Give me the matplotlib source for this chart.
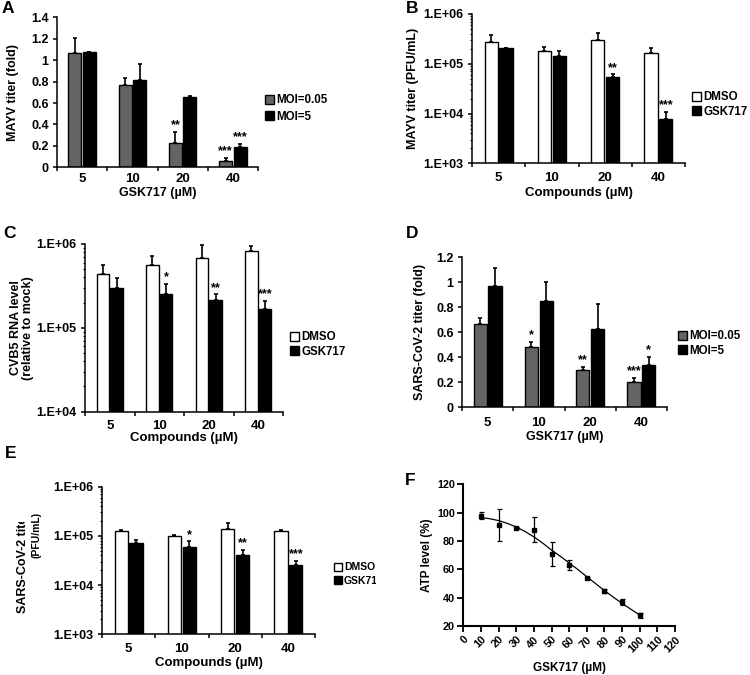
import numpy as np
import matplotlib
matplotlib.use("Agg")
import matplotlib.pyplot as plt
from matplotlib.patches import Patch
from matplotlib.ticker import FuncFormatter, FixedLocator, LogLocator, NullFormatter
from matplotlib.transforms import Bbox, TransformedBbox

plt.rcParams['font.family'] = ['Liberation Sans', 'DejaVu Sans']
plt.rcParams['font.weight'] = 'bold'
plt.rcParams['axes.labelweight'] = 'bold'

# ---------------- data ----------------
conc = ['5', '10', '20', '40']

a_moi005 = [1.064, 0.765, 0.224, 0.056]
a_moi005_err = [0.140, 0.069, 0.109, 0.031]
a_moi5 = [1.073, 0.815, 0.657, 0.193]
a_moi5_err = [0.007, 0.150, 0.006, 0.025]
a_star005 = ['', '', '**', '***']
a_star5 = ['', '', '', '***']

b_dmso = [2.71e5, 1.79e5, 2.97e5, 1.63e5]
b_dmso_err = [1.09e5, 0.36e5, 1.20e5, 0.43e5]
b_gsk = [2.06e5, 1.40e5, 5.33e4, 7.6e3]
b_gsk_err = [0.06e5, 0.37e5, 0.79e4, 3.2e3]
b_star = ['', '', '**', '***']

c_dmso = [4.4e5, 5.56e5, 6.87e5, 8.3e5]
c_dmso_err = [1.2e5, 1.64e5, 2.93e5, 1.16e5]
c_gsk = [3.0e5, 2.55e5, 2.12e5, 1.70e5]
c_gsk_err = [0.96e5, 0.78e5, 0.38e5, 0.40e5]
c_star = ['', '*', '**', '***']

d_moi005 = [0.667, 0.485, 0.299, 0.203]
d_moi005_err = [0.050, 0.040, 0.021, 0.034]
d_moi5 = [0.973, 0.851, 0.627, 0.339]
d_moi5_err = [0.144, 0.154, 0.200, 0.064]
d_star005 = ['', '*', '**', '***']
d_star5 = ['', '', '', '*']

e_dmso = [1.24e5, 1.00e5, 1.41e5, 1.24e5]
e_dmso_err = [0.05e5, 0.05e5, 0.45e5, 0.05e5]
e_gsk = [7.2e4, 5.9e4, 4.1e4, 2.58e4]
e_gsk_err = [1.0e4, 1.8e4, 1.0e4, 0.48e4]
e_star = ['', '*', '**', '***']

f_conc = [10, 20, 30, 40, 50, 60, 70, 80, 90, 100]
f_atp = [97.9, 91.3, 89.2, 87.8, 70.6, 63.1, 53.9, 44.7, 36.9, 27.5]
f_atp_err = [2.4, 11.4, 0.8, 8.8, 8.4, 3.7, 0.8, 1.4, 2.0, 1.8]
fit_x = [10, 15, 20, 25, 30, 35, 40, 45, 50, 55, 60, 65, 70, 75, 80, 85, 90, 95, 100]
fit_y = [96.6, 95.7, 94.4, 92.4, 89.9, 86.7, 82.9, 78.5, 73.6, 69.2, 64.5, 59.8, 54.8, 49.9, 45.0, 40.4, 36.0, 31.8, 27.8]

GRAY = '#646464'
W, H = 750, 675

fig = plt.figure(figsize=(7.5, 6.75), dpi=100)


def fx(px):
    return px / W


def fy(py):
    return 1 - py / H


def ax_px(left, right, top, bottom):
    return fig.add_axes([left / W, 1 - bottom / H, (right - left) / W, (bottom - top) / H])


def style_bar_axes(ax, xpad):
    for s in ['top', 'right']:
        ax.spines[s].set_visible(False)
    for s in ['left', 'bottom']:
        ax.spines[s].set_linewidth(1.1)
    ax.set_xlim(-0.5, 3.5)
    ax.xaxis.set_major_locator(FixedLocator([-0.5, 0.5, 1.5, 2.5, 3.5]))
    ax.xaxis.set_major_formatter(NullFormatter())
    ax.xaxis.set_minor_locator(FixedLocator([0, 1, 2, 3]))
    ax.set_xticklabels(conc, minor=True)
    ax.tick_params(axis='x', which='major', direction='out', length=3, width=1.1)
    ax.tick_params(axis='x', which='minor', length=0, labelsize=9.5, pad=xpad)
    ax.tick_params(axis='y', which='major', direction='out', length=3, width=1.1, labelsize=9, pad=3)
    ax.tick_params(axis='y', which='minor', direction='out', length=1.6, width=0.8)
    for t in ax.get_xticklabels(minor=True) + ax.get_yticklabels():
        t.set_fontweight('bold')


def bars(ax, vals1, err1, c1, vals2, err2, c2, stars1, stars2, bw=0.26, gap=0.03):
    x = np.arange(len(vals1))
    x1 = x - bw / 2 - gap / 2
    x2 = x + bw / 2 + gap / 2
    ax.bar(x1, vals1, width=bw, color=c1, edgecolor='black', linewidth=1.0, zorder=2)
    ax.bar(x2, vals2, width=bw, color=c2, edgecolor='black', linewidth=1.0, zorder=2)
    ax.errorbar(x1, vals1, yerr=[np.zeros(len(vals1)), err1], fmt='none', ecolor='black',
                elinewidth=1.2, capsize=1.6, capthick=1.2, zorder=3)
    ax.errorbar(x2, vals2, yerr=[np.zeros(len(vals2)), err2], fmt='none', ecolor='black',
                elinewidth=1.2, capsize=1.6, capthick=1.2, zorder=3)
    for xs, vs, es, ss in [(x1, vals1, err1, stars1), (x2, vals2, err2, stars2)]:
        for xi, v, e, s in zip(xs, vs, es, ss):
            if s:
                ax.annotate(s, xy=(xi, v + e), xytext=(0, 0.5), textcoords='offset points',
                            ha='center', va='bottom', fontsize=9, fontweight='bold')


def legend(labels, colors, x, ymid, spacing, size=8.3, clip=None):
    handles = [Patch(facecolor=c, edgecolor='black', linewidth=1.0) for c in colors]
    leg = fig.legend(handles, labels, loc='center left', bbox_to_anchor=(fx(x), fy(ymid)),
                     frameon=False, prop={'weight': 'bold', 'size': size},
                     handlelength=0.75, handleheight=0.75,
                     handletextpad=0.22, labelspacing=spacing, borderaxespad=0, borderpad=0)
    for t in leg.get_texts():
        if clip is not None:
            t.set_clip_on(True)
            t.set_clip_box(TransformedBbox(Bbox.from_extents(0, 0, fx(clip), 1), fig.transFigure))
    return leg


def set_labels(ax, ylabel, y_right, xlabel, x_top, ysize=9, xsize=9, linespacing=1.0):
    ax.set_ylabel(ylabel, fontsize=ysize, linespacing=linespacing)
    ax.yaxis.set_label_coords(fx(y_right), (ax.get_position().y0 + ax.get_position().y1) / 2,
                              transform=fig.transFigure)
    ax.set_xlabel(xlabel, fontsize=xsize)
    ax.xaxis.set_label_coords((ax.get_position().x0 + ax.get_position().x1) / 2, fy(x_top),
                              transform=fig.transFigure)


def log_fmt(v, p):
    return "1.E+%02d" % int(round(np.log10(v)))


def setup_log(ax, lo, hi):
    ax.set_yscale('log')
    ax.set_ylim(lo, hi)
    ax.yaxis.set_major_locator(LogLocator(base=10, numticks=10))
    ax.yaxis.set_major_formatter(FuncFormatter(log_fmt))
    ax.yaxis.set_minor_locator(LogLocator(base=10, subs=np.arange(2, 10), numticks=10))
    ax.yaxis.set_minor_formatter(NullFormatter())


def lin_fmt(v, p):
    if abs(v) < 1e-9:
        return '0'
    if abs(v - 1) < 1e-9:
        return '1'
    return '%g' % v


def letter(s, x, y):
    fig.text(fx(x), fy(y), s, fontsize=12.5, fontweight='bold', va='top', ha='left')


# ---------------- A ----------------
axA = ax_px(57, 258, 17.3, 167.3)
bars(axA, a_moi005, a_moi005_err, GRAY, a_moi5, a_moi5_err, 'black', a_star005, a_star5)
axA.set_ylim(0, 1.4)
axA.set_yticks([0, 0.2, 0.4, 0.6, 0.8, 1.0, 1.2, 1.4])
axA.yaxis.set_major_formatter(FuncFormatter(lin_fmt))
style_bar_axes(axA, 4)
set_labels(axA, 'MAYV titer (fold)', 19, 'GSK717 (µM)', 187)
legend(['MOI=0.05', 'MOI=5'], [GRAY, 'black'], 265, 108.5, 0.35)
letter('A', 2, 1)

# ---------------- B ----------------
axB = ax_px(472, 685, 14, 163.3)
setup_log(axB, 1e3, 1e6)
bars(axB, b_dmso, b_dmso_err, 'white', b_gsk, b_gsk_err, 'black', ['', '', '', ''], b_star, bw=0.25)
style_bar_axes(axB, 6.5)
set_labels(axB, 'MAYV titer (PFU/mL)', 419, 'Compounds (µM)', 187, xsize=9.5)
legend(['DMSO', 'GSK717'], ['white', 'black'], 692, 104.5, 0.2)
letter('B', 406, 1)

# ---------------- C ----------------
axC = ax_px(85, 283, 244, 411.7)
setup_log(axC, 1e4, 1e6)
bars(axC, c_dmso, c_dmso_err, 'white', c_gsk, c_gsk_err, 'black', ['', '', '', ''], c_star, bw=0.25)
style_bar_axes(axC, 6)
set_labels(axC, 'CVB5 RNA level\n(relative to mock)', 34, 'Compounds (µM)', 432, xsize=9.5)
legend(['DMSO', 'GSK717'], ['white', 'black'], 290, 344.5, 0.2)
letter('C', 3, 226)

# ---------------- D ----------------
axD = ax_px(462, 667, 257.3, 407.3)
bars(axD, d_moi005, d_moi005_err, GRAY, d_moi5, d_moi5_err, 'black', d_star005, d_star5)
axD.set_ylim(0, 1.2)
axD.set_yticks([0, 0.2, 0.4, 0.6, 0.8, 1.0, 1.2])
axD.yaxis.set_major_formatter(FuncFormatter(lin_fmt))
style_bar_axes(axD, 7)
set_labels(axD, 'SARS-CoV-2 titer (fold)', 426, 'GSK717 (µM)', 431)
legend(['MOI=0.05', 'MOI=5'], [GRAY, 'black'], 678, 343.5, 0.2)
letter('D', 406, 226)

# ---------------- E ----------------
axE = ax_px(102, 315, 486.7, 634.3)
setup_log(axE, 1e3, 1e6)
bars(axE, e_dmso, e_dmso_err, 'white', e_gsk, e_gsk_err, 'black', ['', '', '', ''], e_star, bw=0.25)
style_bar_axes(axE, 6.5)
axE.set_xlabel('Compounds (µM)', fontsize=9.5)
axE.xaxis.set_label_coords((axE.get_position().x0 + axE.get_position().x1) / 2, fy(657),
                           transform=fig.transFigure)
yl1 = fig.text(fx(29.5), fy(613), 'SARS-CoV-2 titer', rotation=90, ha='right', va='bottom',
               fontsize=9, fontweight='bold')
yl1.set_clip_on(True)
yl1.set_clip_box(TransformedBbox(Bbox.from_extents(0, 0, 1, fy(522)), fig.transFigure))
fig.text(fx(41), fy(535), '(PFU/mL)', rotation=90, ha='right', va='center',
         fontsize=7.5, fontweight='bold')
legend(['DMSO', 'GSK717'], ['white', 'black'], 334, 574, 0.3, size=7.5, clip=376)
letter('E', 5, 446)

# ---------------- F ----------------
axF = ax_px(463.3, 675, 484.3, 626)
axF.plot(fit_x, fit_y, color='black', linewidth=0.9, zorder=2)
axF.errorbar(f_conc, f_atp, yerr=f_atp_err, fmt='s', color='black', markersize=2.3,
             elinewidth=0.9, capsize=1.8, capthick=0.9, zorder=3)
axF.set_xlim(0, 120)
axF.set_ylim(20, 120)
axF.set_xticks(np.arange(0, 121, 10))
axF.set_yticks(np.arange(20, 121, 20))
for s in ['top', 'right']:
    axF.spines[s].set_visible(False)
for s in ['left', 'bottom']:
    axF.spines[s].set_linewidth(1.5)
axF.tick_params(direction='out', length=4, width=1.3, labelsize=7.8, pad=2)
for t in axF.get_xticklabels():
    t.set_rotation(45)
    t.set_ha('right')
    t.set_rotation_mode('anchor')
    t.set_fontweight('bold')
for t in axF.get_yticklabels():
    t.set_fontweight('bold')
set_labels(axF, 'ATP level (%)', 433, 'GSK717 (µM)', 662, ysize=8.5, xsize=8.5)
letter('F', 405, 473)

fig.savefig('out.png', dpi=100)
